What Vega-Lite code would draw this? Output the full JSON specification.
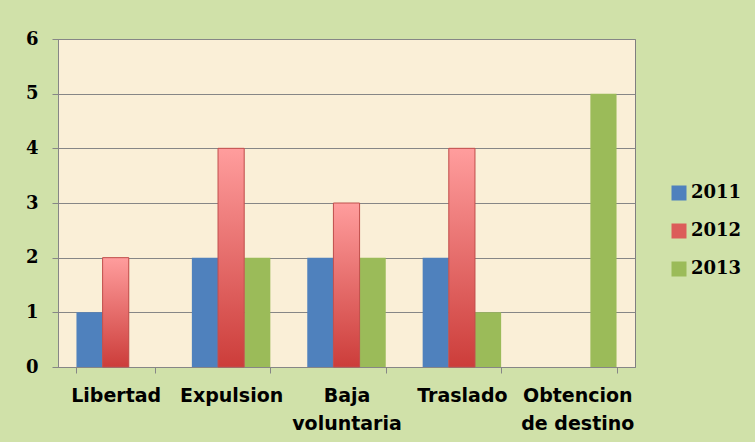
{
  "$schema": "https://vega.github.io/schema/vega-lite/v6.json",
  "width": 577,
  "height": 328,
  "autosize": {"type": "none"},
  "padding": {"left": 58, "top": 39, "right": 120, "bottom": 75},
  "background": "#d0e1a9",
  "view": {"fill": "#faefd7", "stroke": "#7f7f7f", "strokeWidth": 1},
  "data": {
    "values": [
      {"category": "Libertad", "year": "2011", "value": 1},
      {"category": "Libertad", "year": "2012", "value": 2},
      {"category": "Libertad", "year": "2013", "value": 0},
      {"category": "Expulsion", "year": "2011", "value": 2},
      {"category": "Expulsion", "year": "2012", "value": 4},
      {"category": "Expulsion", "year": "2013", "value": 2},
      {"category": "Baja voluntaria", "year": "2011", "value": 2},
      {"category": "Baja voluntaria", "year": "2012", "value": 3},
      {"category": "Baja voluntaria", "year": "2013", "value": 2},
      {"category": "Traslado", "year": "2011", "value": 2},
      {"category": "Traslado", "year": "2012", "value": 4},
      {"category": "Traslado", "year": "2013", "value": 1},
      {"category": "Obtencion de destino", "year": "2011", "value": 0},
      {"category": "Obtencion de destino", "year": "2012", "value": 0},
      {"category": "Obtencion de destino", "year": "2013", "value": 5}
    ]
  },
  "encoding": {
    "x": {
      "field": "category",
      "type": "nominal",
      "sort": ["Libertad", "Expulsion", "Baja voluntaria", "Traslado", "Obtencion de destino"],
      "scale": {"paddingInner": 0.32, "paddingOuter": 0.16},
      "axis": {
        "title": null,
        "labelAngle": 0,
        "labelFont": "DejaVu Sans",
        "labelFontWeight": "bold",
        "labelFontSize": 19,
        "labelColor": "#000000",
        "labelPadding": 13,
        "labelLineHeight": 28,
        "labelExpr": "datum.label == 'Baja voluntaria' ? ['Baja', 'voluntaria'] : datum.label == 'Obtencion de destino' ? ['Obtencion', 'de destino'] : datum.label",
        "tickBand": "extent",
        "tickSize": 6,
        "tickColor": "#868686",
        "domainColor": "#868686",
        "grid": false
      }
    },
    "xOffset": {
      "field": "year",
      "type": "nominal",
      "scale": {"domain": ["2011", "2012", "2013"], "paddingInner": 0, "paddingOuter": 0}
    },
    "y": {
      "field": "value",
      "type": "quantitative",
      "scale": {"domain": [0, 6], "nice": false},
      "axis": {
        "title": null,
        "values": [0, 1, 2, 3, 4, 5, 6],
        "labelFont": "DejaVu Serif",
        "labelFontWeight": "bold",
        "labelFontSize": 18,
        "labelColor": "#000000",
        "labelPadding": 14,
        "tickSize": 6,
        "tickColor": "#868686",
        "domainColor": "#868686",
        "grid": true,
        "gridColor": "#868686",
        "gridOpacity": 1
      }
    }
  },
  "layer": [
    {
      "mark": {"type": "bar"},
      "encoding": {
        "color": {
          "field": "year",
          "type": "nominal",
          "scale": {"domain": ["2011", "2012", "2013"], "range": ["#4f81bd", "#dc5c5a", "#9bbb59"]},
          "legend": {
            "title": null,
            "orient": "none",
            "legendX": 612,
            "legendY": 145,
            "symbolType": "square",
            "symbolSize": 225,
            "symbolOpacity": 1,
            "symbolStrokeWidth": 0,
            "labelFont": "DejaVu Serif",
            "labelFontWeight": "bold",
            "labelFontSize": 18,
            "labelColor": "#000000",
            "labelOffset": 3,
            "rowPadding": 20
          }
        }
      }
    },
    {
      "transform": [{"filter": "datum.year == '2012' && datum.value > 0"}],
      "mark": {
        "type": "bar",
        "fill": {
          "gradient": "linear",
          "x1": 0, "y1": 0, "x2": 0, "y2": 1,
          "stops": [
            {"offset": 0, "color": "#ff9d9d"},
            {"offset": 1, "color": "#cc3d3a"}
          ]
        },
        "stroke": "#c0504d",
        "strokeWidth": 1
      }
    }
  ]
}
